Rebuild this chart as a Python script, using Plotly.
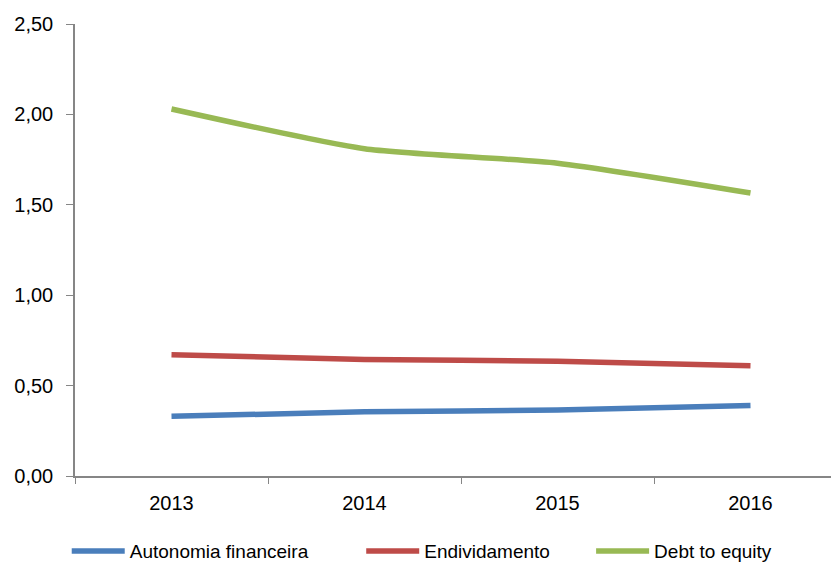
import plotly.graph_objects as go

years = ["2013", "2014", "2015", "2016"]
autonomia = [0.33, 0.355, 0.365, 0.39]
endividamento = [0.67, 0.645, 0.635, 0.61]
debt_equity = [2.03, 1.81, 1.73, 1.565]
series_names = ["Autonomia financeira", "Endividamento", "Debt to equity"]
colors = ["#4A7EBB", "#BE4B48", "#98B954"]
legend_ids = ["legend", "legend2", "legend3"]
legend_x = [0.070, 0.421, 0.695]

font = "Liberation Sans, Arial, sans-serif"

fig = go.Figure()
for name, vals, col, lid in zip(series_names, [autonomia, endividamento, debt_equity], colors, legend_ids):
    fig.add_trace(go.Scatter(
        x=years, y=vals, name=name, mode="lines", legend=lid,
        line=dict(color=col, width=5.5, shape="spline", smoothing=0.6),
    ))

legend_common = dict(orientation="h", xanchor="left", xref="container", yref="container",
                     y=0.037, yanchor="middle", font=dict(size=19, family=font),
                     itemwidth=53, bgcolor="rgba(0,0,0,0)")
leg_layout = {}
for lid, lx in zip(legend_ids, legend_x):
    leg_layout[lid] = dict(legend_common, x=lx)

fig.update_layout(
    width=839, height=564,
    margin=dict(l=67, r=0, t=16, b=96, autoexpand=False),
    paper_bgcolor="white", plot_bgcolor="white",
    separators=",.",
    font=dict(family=font, size=20, color="#000000"),
    showlegend=True,
    xaxis=dict(
        type="category", range=[-0.5, 3.5], automargin=False,
        showline=True, linecolor="#868686", linewidth=1.5,
        ticks="outside", tickson="boundaries", ticklen=6, tickcolor="#868686",
        showgrid=False, zeroline=False, ticklabelstandoff=8,
    ),
    yaxis=dict(
        range=[0, 2.5], dtick=0.5, tickformat=".2f", automargin=False,
        showline=True, linecolor="#868686", linewidth=1.5,
        ticks="outside", ticklen=7, tickcolor="#868686",
        showgrid=False, zeroline=False, ticklabelstandoff=9,
    ),
    **leg_layout,
)

fig.write_html("out.html")
